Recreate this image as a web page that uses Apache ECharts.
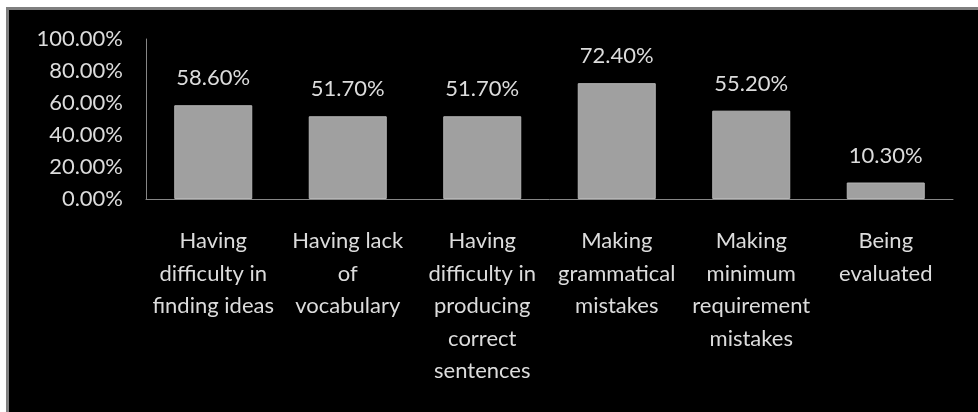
<!DOCTYPE html>
<html>
<head>
<meta charset="utf-8">
<script src="https://cdn.jsdelivr.net/npm/echarts@6/dist/echarts.min.js"></script>
<style>
    html, body { margin: 0; padding: 0; background: #ffffff; }
    #wrap { position: relative; width: 978px; height: 412px; overflow: hidden; }
    #chart {
        position: absolute; left: 6px; top: 7px;
        width: 969px; height: 402px;
        border-left: 3px solid #7f7f7f; border-top: 3px solid #7f7f7f;
        background: #000000;
    }
</style>
</head>
<body>
<div id="wrap"><div id="chart"></div></div>
<script>
// 分类和数值
var categories = [
    'Having\ndifficulty in\nfinding ideas',
    'Having lack\nof\nvocabulary',
    'Having\ndifficulty in\nproducing\ncorrect\nsentences',
    'Making\ngrammatical\nmistakes',
    'Making\nminimum\nrequirement\nmistakes',
    'Being\nevaluated'
];
var values = [58.6, 51.7, 51.7, 72.4, 55.2, 10.3];
var yTicks = [0, 20, 40, 60, 80, 100];

var textColor = '#dcdcdc';
var font = 'Lato, "Open Sans", sans-serif';

var chart = echarts.init(document.getElementById('chart'));
var option = {
    backgroundColor: '#000000',
    animation: false,
    grid: {
        left: 137,
        top: 29,
        right: 25,
        bottom: 213
    },
    xAxis: {
        type: 'category',
        data: categories,
        axisLine: { lineStyle: { color: '#868686', width: 1 } },
        axisTick: { show: false },
        axisLabel: {
            interval: 0,
            margin: 26,
            color: textColor,
            fontFamily: font,
            fontSize: 22,
            lineHeight: 32.5
        }
    },
    yAxis: {
        type: 'value',
        min: yTicks[0],
        max: yTicks[yTicks.length - 1],
        interval: 20,
        axisLine: { show: true, lineStyle: { color: '#868686', width: 1 } },
        axisTick: { show: false },
        splitLine: { show: false },
        axisLabel: {
            margin: 23,
            color: textColor,
            fontFamily: font,
            fontSize: 22,
            formatter: function (v) { return v.toFixed(2) + '%'; }
        }
    },
    series: [{
        type: 'bar',
        data: values,
        barCategoryGap: '42%',
        itemStyle: {
            color: '#a0a0a0',
            borderColor: '#b4b4b4',
            borderWidth: 1
        },
        label: {
            show: true,
            position: 'top',
            distance: 16,
            color: textColor,
            fontFamily: font,
            fontSize: 22,
            formatter: function (p) { return p.value.toFixed(2) + '%'; }
        }
    }]
};
chart.setOption(option);
</script>
</body>
</html>
